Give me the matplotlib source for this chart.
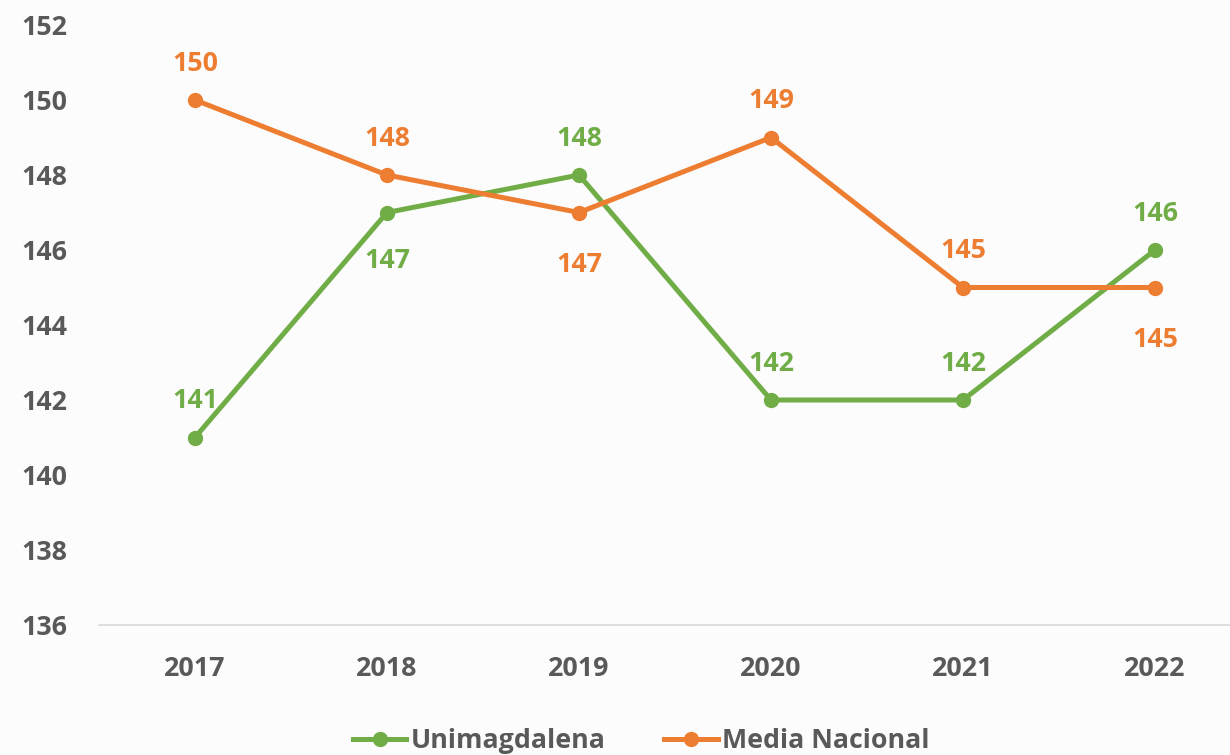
import matplotlib.pyplot as plt
import numpy as np

# Datos
anios = ['2017', '2018', '2019', '2020', '2021', '2022']
unimagdalena = [141, 147, 148, 142, 142, 146]
media_nacional = [150, 148, 147, 149, 145, 145]

# posición de las etiquetas: 1 arriba, -1 abajo
pos_uni = [1, -1, 1, 1, 1, 1]
pos_med = [1, 1, -1, 1, 1, -1]

verde = '#70AD47'
naranja = '#ED7D31'
gris = '#595959'
fs = 19.3

plt.rcParams['font.family'] = ['Open Sans', 'DejaVu Sans']
plt.rcParams['font.weight'] = 'bold'

fig = plt.figure(figsize=(12.3, 7.55), dpi=100)
fig.patch.set_facecolor('#FCFCFC')
ax = fig.add_axes([99 / 1230, 130 / 755, 1152 / 1230, 600 / 755])
ax.set_facecolor('none')

x = np.arange(len(anios))
ax.plot(x, unimagdalena, color=verde, lw=3.6, marker='o', ms=10, label='Unimagdalena')
ax.plot(x, media_nacional, color=naranja, lw=3.6, marker='o', ms=10, label='Media Nacional')

for xi, v, p in zip(x, unimagdalena, pos_uni):
    ax.annotate(str(v), (xi, v), xytext=(0, 26 if p > 0 else -35), textcoords='offset points',
                ha='center', va='center', color=verde, fontsize=fs, fontweight='bold')
for xi, v, p in zip(x, media_nacional, pos_med):
    ax.annotate(str(v), (xi, v), xytext=(0, 26 if p > 0 else -38), textcoords='offset points',
                ha='center', va='center', color=naranja, fontsize=fs, fontweight='bold')

ax.set_xlim(-0.5, 5.5)
ax.set_ylim(136, 152)
ax.set_yticks(np.arange(136, 153, 2))
ax.set_xticks(x)
ax.set_xticklabels(anios)
ax.tick_params(axis='both', length=0, labelsize=fs, labelcolor=gris)
ax.tick_params(axis='x', pad=22)
ax.tick_params(axis='y', pad=23)
for lab in ax.get_xticklabels() + ax.get_yticklabels():
    lab.set_fontweight('bold')
for s in ['top', 'right', 'left']:
    ax.spines[s].set_visible(False)
ax.spines['bottom'].set_color('#D9D9D9')
ax.spines['bottom'].set_linewidth(1.2)

leg = fig.legend(loc='center', bbox_to_anchor=(641 / 1230, 1 - 741 / 755), ncol=2, frameon=False,
                 prop={'size': fs, 'weight': 'bold'}, handlelength=2.0, handletextpad=0.15,
                 columnspacing=2.2)
for t in leg.get_texts():
    t.set_color(gris)

fig.savefig('out.png', dpi=100, facecolor=fig.get_facecolor())
